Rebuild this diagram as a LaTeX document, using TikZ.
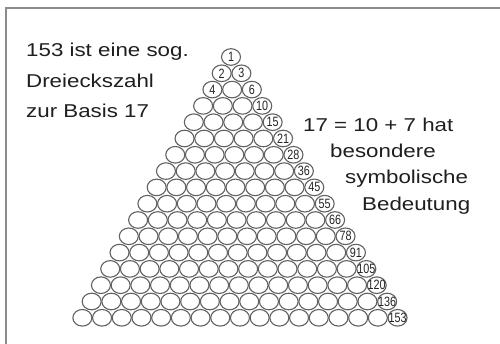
\documentclass[tikz,border=0pt]{standalone}
\usepackage{fontspec}
\setmainfont{Liberation Sans}
\usetikzlibrary{shapes.geometric}
\begin{document}
\begin{tikzpicture}[x=1pt,y=-1pt,
  ball/.style={ellipse,draw=black!62,line width=1.1pt,minimum width=19pt,minimum height=16.6pt,inner sep=0pt,outer sep=0pt},
  num/.style={font=\fontsize{13.5}{13.5}\selectfont,text=black!85,inner sep=0pt},
  txt/.style={font=\fontsize{18.6}{18.6}\selectfont,text=black!88,inner sep=0pt,anchor=base west}]
\useasboundingbox (0,0) rectangle (500,344);
\fill[white] (0,0) rectangle (500,344);
\draw[black!45,line width=2pt] (6,344) -- (6,8) -- (500,8);
\foreach \r in {0,...,16}{
  \foreach \k in {0,...,\r}{
    \pgfmathsetmacro\xx{231+0.56*\r+19.7*(\k-\r/2)}
    \pgfmathsetmacro\yy{57+16.3*\r}
    \node[ball] (c-\r-\k) at (\xx,\yy) {};
  }
}
\foreach \r/\v in {0/1,1/3,2/6,3/10,4/15,5/21,6/28,7/36,8/45,9/55,10/66,11/78,12/91,13/105,14/120,15/136,16/153}{
  \node[num] (n-\r) at (c-\r-\r) {\scalebox{0.8}[1]{\v}};
}
\node[num] (n-two) at (c-1-0) {\scalebox{0.8}[1]{2}};
\node[num] (n-four) at (c-2-0) {\scalebox{0.8}[1]{4}};
\node[txt] (t1) at (26,57) {\scalebox{1.2}[1]{153 ist eine sog.}};
\node[txt] (t2) at (26,87.5) {\scalebox{1.2}[1]{Dreieckszahl}};
\node[txt] (t3) at (26,118) {\scalebox{1.2}[1]{zur Basis 17}};
\node[txt] (r1) at (303,131.5) {\scalebox{1.2}[1]{17 = 10 + 7 hat}};
\node[txt] (r2) at (330,157.5) {\scalebox{1.2}[1]{besondere}};
\node[txt] (r3) at (345,184) {\scalebox{1.2}[1]{symbolische}};
\node[txt] (r4) at (362,211) {\scalebox{1.2}[1]{Bedeutung}};
\end{tikzpicture}
\end{document}
